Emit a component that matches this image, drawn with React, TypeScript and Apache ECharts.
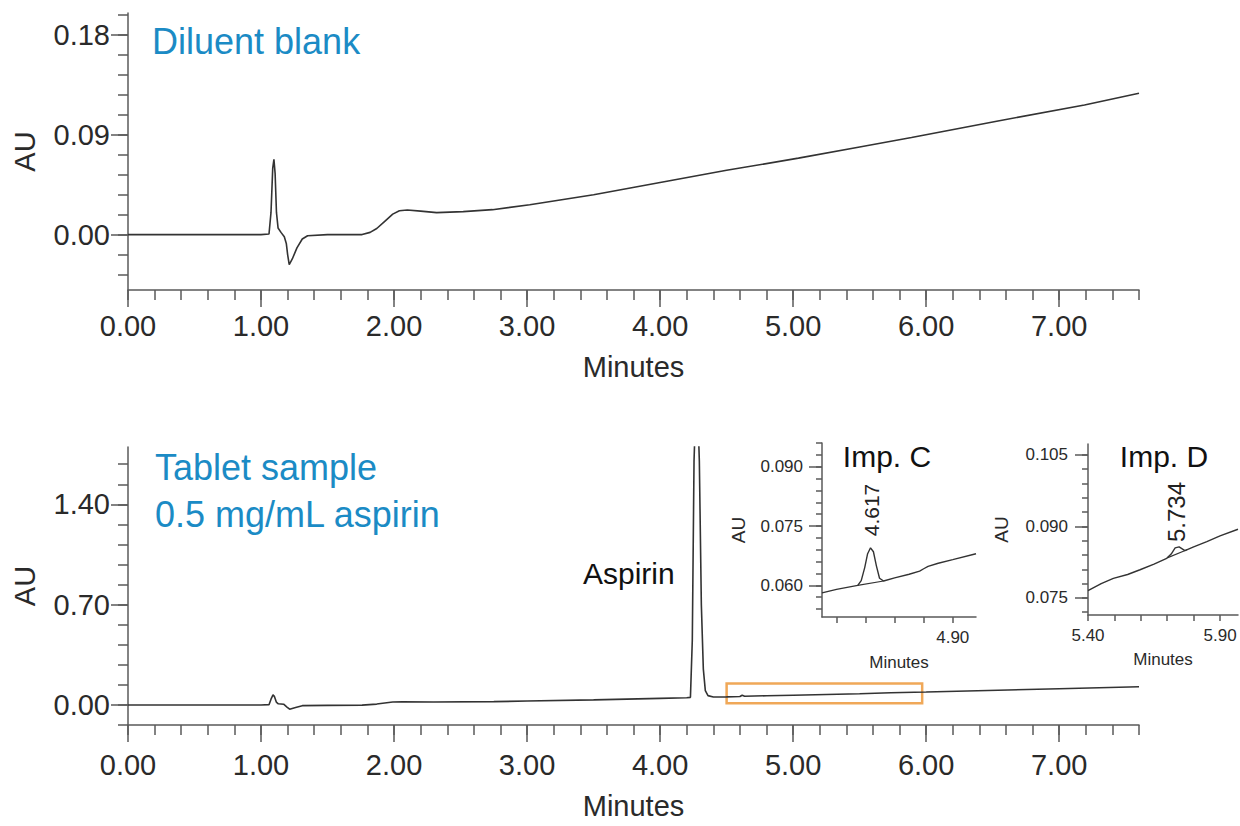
import React, { useEffect, useRef } from "react";
import * as echarts from "echarts";

const FONT = "'Liberation Sans', Arial, Helvetica, sans-serif";
const AXIS = "#5a5a5a";
const LABEL = "#2a2a2a";
const LINE = "#333333";
const BLUE = "#1B8BC5";
const ORANGE = "#F0A858";

// ---- Diluent blank trace (minutes, AU) ----
const blankTime = [0, 1.0, 1.06, 1.075, 1.088, 1.097, 1.106, 1.116, 1.128, 1.15, 1.175, 1.19, 1.2, 1.212, 1.235, 1.27, 1.31, 1.35, 1.5, 1.76, 1.82, 1.87, 1.93, 1.99, 2.04, 2.1, 2.2, 2.32, 2.52, 2.74, 3.02, 3.5, 4.0, 4.5, 5.04, 5.5, 5.89, 6.54, 7.19, 7.6];
const blankAU = [0, 0, 0.0005, 0.02, 0.06, 0.068, 0.055, 0.02, 0.006, 0.002, -0.002, -0.008, -0.018, -0.027, -0.022, -0.012, -0.004, -0.001, 0, 0, 0.002, 0.0055, 0.012, 0.0185, 0.0215, 0.0222, 0.0212, 0.0198, 0.0207, 0.0225, 0.027, 0.036, 0.047, 0.058, 0.069, 0.079, 0.0876, 0.1026, 0.117, 0.1275];

// ---- Tablet sample trace ----
const sampleTime = [0, 1.0, 1.06, 1.075, 1.09, 1.1, 1.115, 1.13, 1.17, 1.195, 1.215, 1.26, 1.31, 1.5, 1.76, 1.87, 1.99, 2.06, 2.3, 2.75, 3.0, 3.5, 4.0, 4.2, 4.228, 4.242, 4.255, 4.275, 4.295, 4.31, 4.325, 4.34, 4.36, 4.4, 4.5, 4.6, 4.617, 4.635, 4.8, 5.0, 5.5, 5.734, 6.0, 6.54, 7.0, 7.6];
const sampleAU = [0, 0, 0.002, 0.04, 0.07, 0.06, 0.02, 0.008, 0.005, -0.015, -0.03, -0.018, -0.005, -0.003, -0.001, 0.006, 0.02, 0.022, 0.02, 0.023, 0.027, 0.035, 0.046, 0.05, 0.053, 0.45, 1.7, 2.3, 1.7, 0.7, 0.25, 0.1, 0.065, 0.055, 0.056, 0.059, 0.068, 0.061, 0.064, 0.068, 0.078, 0.085, 0.09, 0.103, 0.113, 0.127];

// ---- Inset: Imp. C ----
const impCTime = [4.45, 4.5, 4.573, 4.585, 4.597, 4.607, 4.617, 4.627, 4.637, 4.648, 4.662, 4.7, 4.75, 4.786, 4.8, 4.815, 4.85, 4.9, 4.98];
const impCAU = [0.0581, 0.059, 0.06, 0.0612, 0.0645, 0.068, 0.0695, 0.0685, 0.065, 0.0618, 0.0611, 0.0619, 0.0628, 0.0636, 0.0642, 0.0648, 0.0656, 0.0665, 0.068];
const impCBaseTime = [4.573, 4.662];
const impCBaseAU = [0.06, 0.0611];

// ---- Inset: Imp. D ----
const impDTime = [5.4, 5.45, 5.496, 5.55, 5.597, 5.65, 5.698, 5.715, 5.73, 5.745, 5.767, 5.8, 5.85, 5.9, 5.968];
const impDAU = [0.0765, 0.078, 0.0791, 0.0799, 0.0809, 0.0821, 0.0833, 0.0842, 0.0855, 0.0857, 0.0849, 0.0857, 0.0868, 0.088, 0.0894];
const impDBaseTime = [5.7, 5.775];
const impDBaseAU = [0.0834, 0.0851];

// ---- Tick values / labels ----
const mainXMajor = [0, 1, 2, 3, 4, 5, 6, 7];
const blankYMajor = [0, 0.09, 0.18];
const sampleYMajor = [0, 0.7, 1.4];
const impCYMajor = [0.06, 0.075, 0.09];
const impCXTicks = [4.5, 4.6, 4.7, 4.8, 4.9];
const impCXLabels = [4.9];
const impDYMajor = [0.075, 0.09, 0.105];
const impDXTicks = [5.4, 5.5, 5.6, 5.7, 5.8, 5.9];
const impDXLabels = [5.4, 5.9];

// ---- Highlighted region (orange box) ----
const boxTime = [4.5, 5.97];
const boxAU = [0.012, 0.149];

function steps(from: number, to: number, step: number): number[] {
  const out: number[] = [];
  const n = Math.round((to - from) / step);
  for (let i = 0; i <= n; i++) out.push(Math.round((from + i * step) * 1e6) / 1e6);
  return out;
}

function zip(a: number[], b: number[]) {
  return a.map((t, i) => [t, b[i]]);
}

type Spec = {
  dim: "x" | "y";
  grid: number;
  min: number;
  max: number;
  major: number[];
  minor: number[];
  labels: number[];
  majorLen: number;
  minorLen: number;
  decimals: number;
  fontSize: number;
  margin: number;
  name?: string;
  nameGap?: number;
  nameSize?: number;
};

function makeAxes(s: Spec) {
  const position = s.dim === "x" ? "bottom" : "left";
  const lineStyle = { color: AXIS, width: 1.5 };
  const main: any = {
    type: "value",
    gridIndex: s.grid,
    position,
    min: s.min,
    max: s.max,
    axisLine: { show: true, onZero: false, lineStyle },
    axisTick: { show: true, inside: false, length: s.majorLen, customValues: s.major, lineStyle },
    axisLabel: {
      show: true,
      customValues: s.labels,
      formatter: (v: number) => Number(v).toFixed(s.decimals),
      fontSize: s.fontSize,
      fontFamily: FONT,
      color: LABEL,
      margin: s.margin,
    },
    splitLine: { show: false },
    minorTick: { show: false },
  };
  if (s.name) {
    main.name = s.name;
    main.nameLocation = "middle";
    main.nameGap = s.nameGap;
    main.nameTextStyle = { fontSize: s.nameSize, fontFamily: FONT, color: LABEL };
  }
  const minor: any = {
    type: "value",
    gridIndex: s.grid,
    position,
    min: s.min,
    max: s.max,
    axisLine: { show: false, onZero: false },
    axisTick: { show: true, inside: false, length: s.minorLen, customValues: s.minor, lineStyle },
    axisLabel: { show: false },
    splitLine: { show: false },
  };
  return [main, minor];
}

function txt(text: string, x: number, y: number, size: number, color: string, align = "left", rot = 0) {
  return {
    type: "text",
    x,
    y,
    rotation: rot,
    silent: true,
    z: 20,
    style: {
      text,
      fill: color,
      fontSize: size,
      fontFamily: FONT,
      textAlign: align,
      textVerticalAlign: "middle",
      verticalAlign: "middle",
    },
  };
}

export default function App() {
  const ref = useRef<HTMLDivElement>(null);

  useEffect(() => {
    if (!ref.current) return;
    const chart = echarts.init(ref.current, null, { renderer: "svg" });

    const xAxes: any[] = [];
    const yAxes: any[] = [];

    // grid 0: diluent blank
    xAxes.push(
      ...makeAxes({
        dim: "x", grid: 0, min: 0, max: 7.6,
        major: mainXMajor, minor: steps(0, 7.6, 0.2), labels: mainXMajor,
        majorLen: 17, minorLen: 10, decimals: 2, fontSize: 29, margin: 21,
        name: "Minutes", nameGap: 62, nameSize: 29,
      })
    );
    yAxes.push(
      ...makeAxes({
        dim: "y", grid: 0, min: -0.05, max: 0.2,
        major: blankYMajor, minor: steps(-0.036, 0.198, 0.018), labels: blankYMajor,
        majorLen: 17, minorLen: 10, decimals: 2, fontSize: 29, margin: 18,
        name: "AU", nameGap: 89, nameSize: 29,
      })
    );
    // grid 1: tablet sample
    xAxes.push(
      ...makeAxes({
        dim: "x", grid: 1, min: 0, max: 7.6,
        major: mainXMajor, minor: steps(0, 7.6, 0.2), labels: mainXMajor,
        majorLen: 17, minorLen: 10, decimals: 2, fontSize: 29, margin: 25,
        name: "Minutes", nameGap: 66, nameSize: 29,
      })
    );
    yAxes.push(
      ...makeAxes({
        dim: "y", grid: 1, min: -0.14, max: 1.8,
        major: sampleYMajor, minor: steps(-0.14, 1.68, 0.14), labels: sampleYMajor,
        majorLen: 17, minorLen: 10, decimals: 2, fontSize: 29, margin: 18,
        name: "AU", nameGap: 89, nameSize: 29,
      })
    );
    // grid 2: Imp. C inset
    xAxes.push(
      ...makeAxes({
        dim: "x", grid: 2, min: 4.45, max: 4.98,
        major: impCXTicks, minor: [], labels: impCXLabels,
        majorLen: 6, minorLen: 6, decimals: 2, fontSize: 17, margin: 12,
        name: "Minutes", nameGap: 37, nameSize: 17,
      })
    );
    yAxes.push(
      ...makeAxes({
        dim: "y", grid: 2, min: 0.052, max: 0.096,
        major: impCYMajor, minor: steps(0.054, 0.096, 0.003), labels: impCYMajor,
        majorLen: 13, minorLen: 6, decimals: 3, fontSize: 17, margin: 19,
        name: "AU", nameGap: 74, nameSize: 19,
      })
    );
    // grid 3: Imp. D inset
    xAxes.push(
      ...makeAxes({
        dim: "x", grid: 3, min: 5.4, max: 5.968,
        major: impDXTicks, minor: [], labels: impDXLabels,
        majorLen: 6, minorLen: 6, decimals: 2, fontSize: 17, margin: 12,
        name: "Minutes", nameGap: 36, nameSize: 17,
      })
    );
    yAxes.push(
      ...makeAxes({
        dim: "y", grid: 3, min: 0.0714, max: 0.1073,
        major: impDYMajor, minor: steps(0.072, 0.105, 0.003), labels: impDYMajor,
        majorLen: 13, minorLen: 6, decimals: 3, fontSize: 17, margin: 20,
        name: "AU", nameGap: 77, nameSize: 19,
      })
    );

    const lineSeries = (data: number[][], gi: number, width = 1.6, extra: any = {}) => ({
      type: "line",
      xAxisIndex: gi * 2,
      yAxisIndex: gi * 2,
      data,
      symbol: "none",
      showSymbol: false,
      silent: true,
      clip: true,
      lineStyle: { color: LINE, width },
      z: 5,
      ...extra,
    });

    const option: any = {
      animation: false,
      backgroundColor: "#ffffff",
      grid: [
        { left: 128, top: 13, width: 1011, height: 277, containLabel: false, outerBoundsMode: "none" },
        { left: 128, top: 447, width: 1011, height: 278, containLabel: false, outerBoundsMode: "none" },
        { left: 822, top: 443, width: 154, height: 174, containLabel: false, outerBoundsMode: "none" },
        { left: 1088, top: 444, width: 150, height: 171, containLabel: false, outerBoundsMode: "none" },
      ],
      xAxis: xAxes,
      yAxis: yAxes,
      series: [
        lineSeries(zip(blankTime, blankAU), 0),
        lineSeries(zip(sampleTime, sampleAU), 1, 1.6, {
          markArea: {
            silent: true,
            itemStyle: { color: "rgba(0,0,0,0)", borderColor: ORANGE, borderWidth: 2.5 },
            data: [[{ coord: [boxTime[0], boxAU[0]] }, { coord: [boxTime[1], boxAU[1]] }]],
          },
        }),
        lineSeries(zip(impCTime, impCAU), 2, 1.4),
        lineSeries(zip(impCBaseTime, impCBaseAU), 2, 1.2),
        lineSeries(zip(impDTime, impDAU), 3, 1.4),
        lineSeries(zip(impDBaseTime, impDBaseAU), 3, 1.2),
      ],
      graphic: [
        txt("Diluent blank", 152, 41, 36, BLUE),
        txt("Tablet sample", 155, 467, 36, BLUE),
        txt("0.5 mg/mL aspirin", 155, 514, 36, BLUE),
        txt("Aspirin", 583, 573, 30, "#111111"),
        txt("Imp. C", 887, 456, 30, "#111111", "center"),
        txt("Imp. D", 1164, 456, 30, "#111111", "center"),
        txt("4.617", 871, 510, 21, "#222222", "center", Math.PI / 2),
        txt("5.734", 1176, 512, 24, "#222222", "center", Math.PI / 2),
      ],
    };

    chart.setOption(option);
    return () => chart.dispose();
  }, []);

  return (
    <div
      ref={ref}
      style={{ position: "fixed", left: 0, top: 0, width: 1240, height: 826, background: "#fff" }}
    />
  );
}
